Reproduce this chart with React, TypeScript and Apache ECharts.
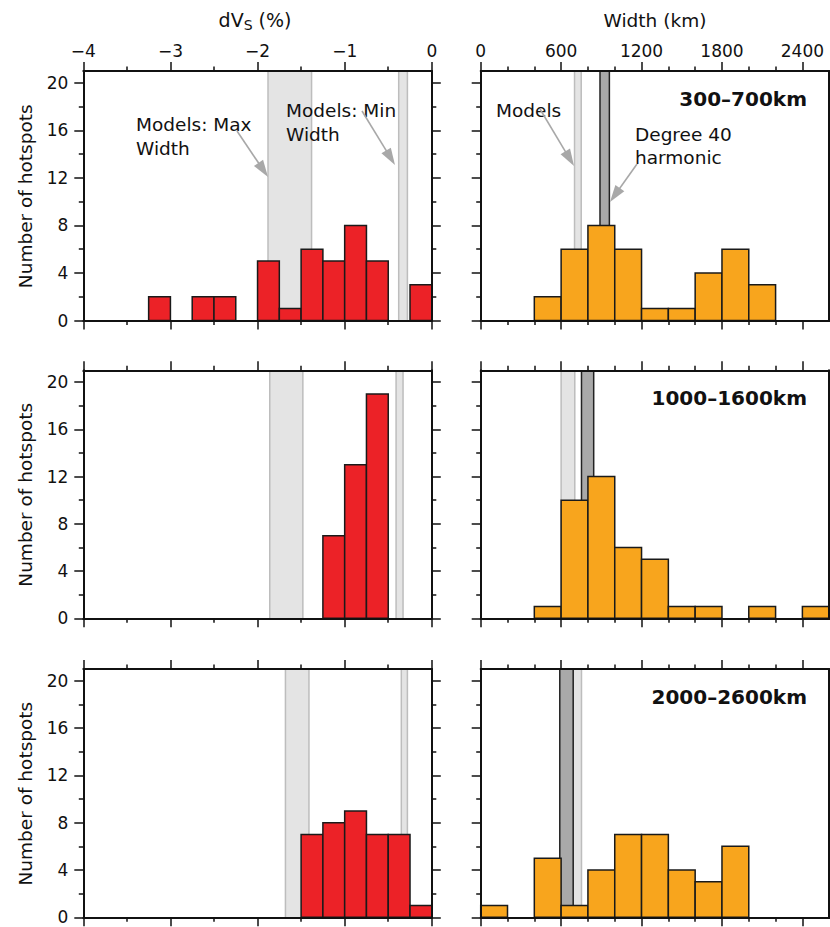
import React, { useEffect, useRef } from "react";
import * as echarts from "echarts";

// ---------- data ----------
const dvsBinStarts = [-4, -3.75, -3.5, -3.25, -3, -2.75, -2.5, -2.25, -2, -1.75, -1.5, -1.25, -1, -0.75, -0.5, -0.25];
const dvsBinWidth = 0.25;
const dvsCounts300 = [0, 0, 0, 2, 0, 2, 2, 0, 5, 1, 6, 5, 8, 5, 0, 3];
const dvsCounts1000 = [0, 0, 0, 0, 0, 0, 0, 0, 0, 0, 0, 7, 13, 19, 0, 0];
const dvsCounts2000 = [0, 0, 0, 0, 0, 0, 0, 0, 0, 0, 7, 8, 9, 7, 7, 1];

const widthBinStarts = [0, 200, 400, 600, 800, 1000, 1200, 1400, 1600, 1800, 2000, 2200, 2400];
const widthBinWidth = 200;
const widthCounts300 = [0, 0, 2, 6, 8, 6, 1, 1, 4, 6, 3, 0, 0];
const widthCounts1000 = [0, 0, 1, 10, 12, 6, 5, 1, 1, 0, 1, 0, 1];
const widthCounts2000 = [1, 0, 5, 1, 4, 7, 7, 4, 3, 6, 0, 0, 0];

const depthLabels = ["300\u2013700km", "1000\u20131600km", "2000\u20132600km"];

// model ranges (shaded bands)
const dvsMaxWidthBands = [[-1.88, -1.38], [-1.86, -1.48], [-1.68, -1.41]];
const dvsMinWidthBands = [[-0.38, -0.28], [-0.41, -0.33], [-0.35, -0.28]];
const widthModelBands = [[700, 750], [600, 702], [690, 752]];
const widthDegree40Bands = [[890, 960], [752, 843], [590, 690]];

// axes
const dvsRange = [-4, 0];
const dvsTicks = [-4, -3, -2, -1, 0];
const dvsMinorTicks = [-3.5, -2.5, -1.5, -0.5];
const widthRange = [0, 2600];
const widthTicks = [0, 600, 1200, 1800, 2400];
const widthMinorTicks = [200, 400, 800, 1000, 1400, 1600, 2000, 2200];
const countRange = [0, 21];
const countTicks = [0, 4, 8, 12, 16, 20];
const countMinorTicks = [2, 6, 10, 14, 18];

// ---------- style ----------
const FONT = "'DejaVu Sans', sans-serif";
const INK = "#111";
const RED = "#ec2227";
const ORANGE = "#f8a51d";
const LIGHT = "#e4e4e4";
const LIGHT_EDGE = "#bdbdbd";
const DARK = "#a9a9a9";
const DARK_EDGE = "#222";
const ARROW = "#a8a8a8";

const colLeft = [83.3, 480.7];
const colWidth = 348.5;
const rowTop = [71, 370.3, 669];
const rowHeight = [249.5, 248, 248.3];

const fmtNum = (v: number) => (v < 0 ? "\u2212" + Math.abs(v) : String(v));

function makeAxes(dim: "x" | "y", gridIndex: number, range: number[], major: number[], minor: number[], labelSide: string | null) {
  const sides = dim === "x" ? ["bottom", "top"] : ["left", "right"];
  const out: any[] = [];
  for (const side of sides) {
    const base = {
      gridIndex,
      type: "value",
      position: side,
      min: range[0],
      max: range[1],
      z: 5,
      splitLine: { show: false },
      minorTick: { show: false },
      minorSplitLine: { show: false },
    };
    out.push({
      ...base,
      axisLine: { show: true, onZero: false, lineStyle: { color: INK, width: 2 } },
      axisTick: { show: true, inside: false, length: 9, customValues: major, lineStyle: { color: INK, width: 1.5 } },
      axisLabel: {
        show: labelSide === side,
        customValues: major,
        formatter: (v: number) => fmtNum(v),
        fontFamily: FONT,
        fontSize: 17,
        color: INK,
        margin: dim === "x" ? 12 : 15,
      },
    });
    out.push({
      ...base,
      axisLine: { show: false, onZero: false },
      axisTick: { show: true, inside: false, length: 4.5, customValues: minor, lineStyle: { color: INK, width: 1.5 } },
      axisLabel: { show: false },
    });
  }
  return out;
}

function barData(starts: number[], w: number, counts: number[]) {
  const d: number[][] = [];
  starts.forEach((s, i) => {
    if (counts[i] > 0) d.push([s, s + w, counts[i]]);
  });
  return d;
}

function barSeries(gridIndex: number, data: number[][], color: string) {
  return {
    type: "custom",
    xAxisIndex: gridIndex * 4,
    yAxisIndex: gridIndex * 4,
    z: 3,
    silent: true,
    encode: { x: [0, 1], y: 2 },
    data,
    renderItem: (_p: any, api: any) => {
      const a = api.coord([api.value(0), 0]);
      const b = api.coord([api.value(1), api.value(2)]);
      return {
        type: "rect",
        shape: { x: a[0], y: b[1], width: b[0] - a[0], height: a[1] - b[1] },
        style: { fill: color, stroke: "#1a1a1a", lineWidth: 1.5 },
      };
    },
  };
}

function bandSeries(gridIndex: number, band: number[], fill: string, edge: string) {
  return {
    type: "custom",
    xAxisIndex: gridIndex * 4,
    yAxisIndex: gridIndex * 4,
    z: 1,
    silent: true,
    encode: { x: [0, 1], y: 2 },
    data: [[band[0], band[1], countRange[1]]],
    renderItem: (_p: any, api: any) => {
      const a = api.coord([api.value(0), 0]);
      const b = api.coord([api.value(1), api.value(2)]);
      return {
        type: "group",
        children: [
          { type: "rect", shape: { x: a[0], y: b[1], width: b[0] - a[0], height: a[1] - b[1] }, style: { fill } },
          { type: "line", shape: { x1: a[0], y1: a[1], x2: a[0], y2: b[1] }, style: { stroke: edge, lineWidth: 1.5 } },
          { type: "line", shape: { x1: b[0], y1: a[1], x2: b[0], y2: b[1] }, style: { stroke: edge, lineWidth: 1.5 } },
        ],
      };
    },
  };
}

function arrow(x1: number, y1: number, x2: number, y2: number) {
  const dx = x2 - x1;
  const dy = y2 - y1;
  const len = Math.sqrt(dx * dx + dy * dy);
  const ux = dx / len;
  const uy = dy / len;
  const hl = 17;
  const hw = 5.5;
  const bx = x2 - ux * hl;
  const by = y2 - uy * hl;
  return [
    { type: "line", z: 100, shape: { x1, y1, x2: bx + ux * 2, y2: by + uy * 2 }, style: { stroke: ARROW, lineWidth: 1.6 }, silent: true },
    {
      type: "polygon",
      z: 100,
      shape: { points: [[x2, y2], [bx - uy * hw, by + ux * hw], [bx + uy * hw, by - ux * hw]] },
      style: { fill: ARROW },
      silent: true,
    },
  ];
}

function textEl(text: string, x: number, y: number, extra: any = {}) {
  return {
    type: "text",
    x,
    y,
    z: 100,
    silent: true,
    style: { text, fontFamily: FONT, fontSize: 18.5, fill: INK, align: "left", verticalAlign: "top", lineHeight: 24, ...extra },
  };
}

export default function App() {
  const ref = useRef<HTMLDivElement>(null);
  useEffect(() => {
    document.body.style.margin = "0";
    if (!ref.current) return;
    const chart = echarts.init(ref.current, null, { renderer: "svg" });

    const grids: any[] = [];
    const xAxis: any[] = [];
    const yAxis: any[] = [];
    const series: any[] = [];
    const dvsCounts = [dvsCounts300, dvsCounts1000, dvsCounts2000];
    const widthCounts = [widthCounts300, widthCounts1000, widthCounts2000];

    for (let r = 0; r < 3; r++) {
      for (let c = 0; c < 2; c++) {
        const gi = r * 2 + c;
        grids.push({ left: colLeft[c], top: rowTop[r], width: colWidth, height: rowHeight[r], outerBoundsMode: "none", containLabel: false });
        if (c === 0) {
          xAxis.push(...makeAxes("x", gi, dvsRange, dvsTicks, dvsMinorTicks, r === 0 ? "top" : null));
          yAxis.push(...makeAxes("y", gi, countRange, countTicks, countMinorTicks, "left"));
          series.push(bandSeries(gi, dvsMaxWidthBands[r], LIGHT, LIGHT_EDGE));
          series.push(bandSeries(gi, dvsMinWidthBands[r], LIGHT, LIGHT_EDGE));
          series.push(barSeries(gi, barData(dvsBinStarts, dvsBinWidth, dvsCounts[r]), RED));
        } else {
          xAxis.push(...makeAxes("x", gi, widthRange, widthTicks, widthMinorTicks, r === 0 ? "top" : null));
          yAxis.push(...makeAxes("y", gi, countRange, countTicks, countMinorTicks, null));
          series.push(bandSeries(gi, widthModelBands[r], LIGHT, LIGHT_EDGE));
          series.push(bandSeries(gi, widthDegree40Bands[r], DARK, DARK_EDGE));
          series.push(barSeries(gi, barData(widthBinStarts, widthBinWidth, widthCounts[r]), ORANGE));
        }
      }
    }

    const graphic: any[] = [];
    // axis titles
    graphic.push({
      type: "text",
      x: 255,
      y: 20,
      z: 100,
      silent: true,
      style: {
        text: "{a|dV}{s|S}{a| (%)}",
        align: "center",
        verticalAlign: "middle",
        fill: INK,
        rich: {
          a: { fontFamily: FONT, fontSize: 19, fill: INK },
          s: { fontFamily: FONT, fontSize: 14, fill: INK, padding: [10, 0, 0, 0] },
        },
      },
    });
    graphic.push(textEl("Width (km)", 655, 20, { align: "center", verticalAlign: "middle" }));
    for (let r = 0; r < 3; r++) {
      graphic.push({
        type: "text",
        x: 25,
        y: rowTop[r] + rowHeight[r] / 2 + 0.5,
        rotation: Math.PI / 2,
        z: 100,
        silent: true,
        style: { text: "Number of hotspots", fontFamily: FONT, fontSize: 18.5, fill: INK, align: "center", verticalAlign: "middle" },
      });
      graphic.push({
        type: "text",
        x: 807,
        y: rowTop[r] + 28,
        z: 100,
        silent: true,
        style: { text: depthLabels[r], fontFamily: FONT, fontSize: 20, fontWeight: "bold", fill: INK, align: "right", verticalAlign: "middle" },
      });
    }
    // annotations
    graphic.push(textEl("Models: Max\nWidth", 136, 112));
    graphic.push(textEl("Models: Min\nWidth", 286, 98));
    graphic.push(textEl("Models", 496, 98));
    graphic.push(textEl("Degree 40\nharmonic", 635, 123, { lineHeight: 23 }));
    graphic.push(...arrow(237, 131, 268, 177));
    graphic.push(...arrow(362, 111, 395, 165));
    graphic.push(...arrow(540, 109, 574, 166));
    graphic.push(...arrow(637, 164, 610, 202));

    chart.setOption({
      animation: false,
      backgroundColor: "#fff",
      grid: grids,
      xAxis,
      yAxis,
      series,
      graphic,
    });
    return () => chart.dispose();
  }, []);
  return <div ref={ref} style={{ width: 830, height: 927 }} />;
}
